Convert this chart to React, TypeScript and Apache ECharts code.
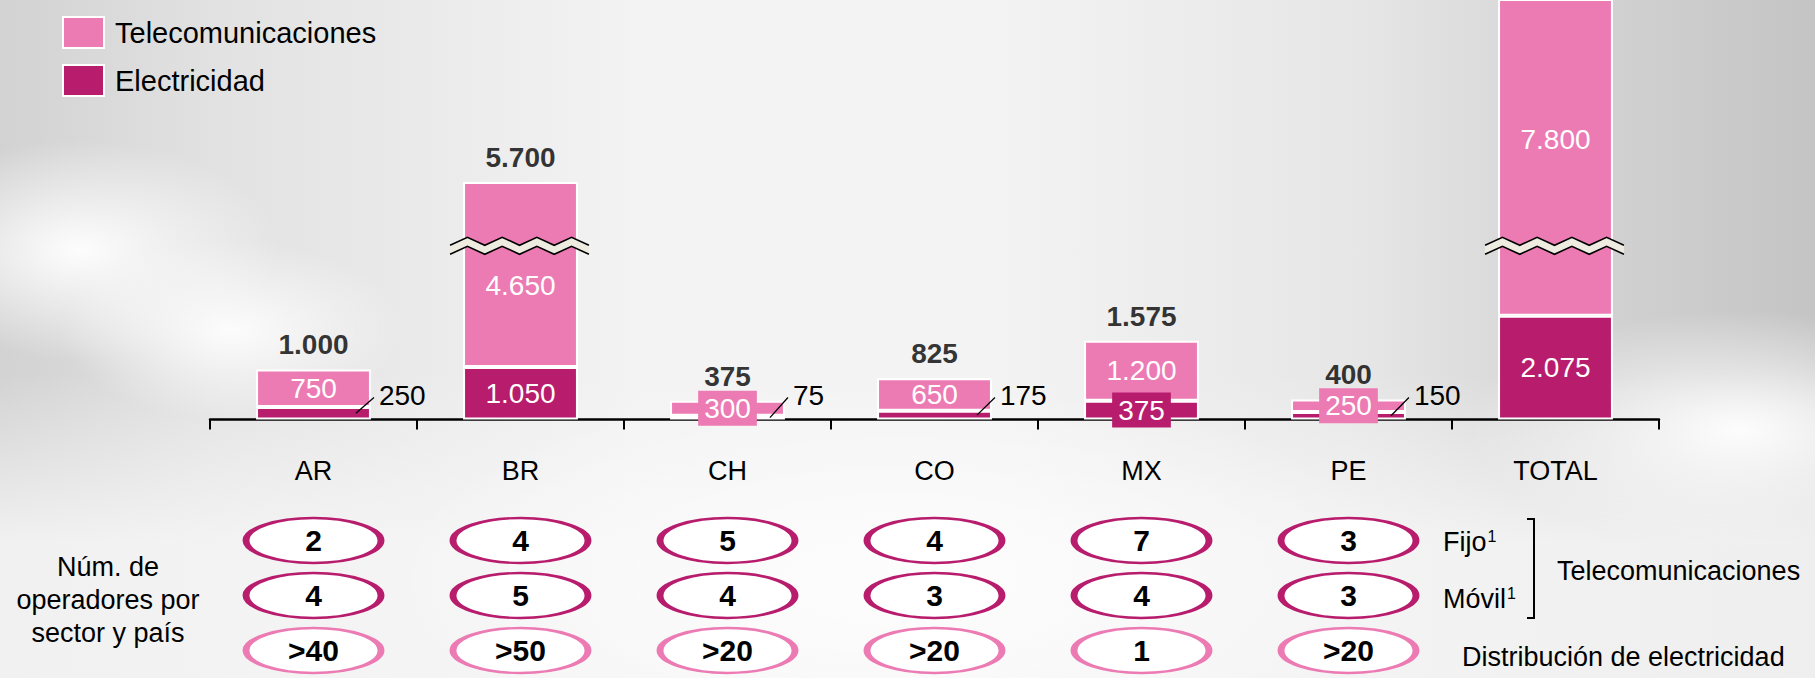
import React, { useEffect, useRef } from 'react';
import * as echarts from 'echarts';

// ---------- data ----------
const categories = ['AR', 'BR', 'CH', 'CO', 'MX', 'PE', 'TOTAL'];
const electricidad = [250, 1050, 75, 175, 375, 150, 2075];
const telecomunicaciones = [750, 4650, 300, 650, 1200, 250, 7800];
const showTotal = [true, true, true, true, true, true, false];

const opsRows = ['Fijo', 'Móvil', 'Distribución'];
const opsFijo = ['2', '4', '5', '4', '7', '3'];
const opsMovil = ['4', '5', '4', '3', '4', '3'];
const opsElectricidad = ['>40', '>50', '>20', '>20', '1', '>20'];

// axis break (value axis)
const BREAK_START = 3400;
const BREAK_END = 4480;
const Y_MAX = 9340;

// ---------- style ----------
const PINK = '#EC7BB4';
const MAGENTA = '#B81C6C';
const FONT = 'Liberation Sans, Arial, Helvetica, sans-serif';
const BAR_RATIO = 0.555;

const fmt = (n: number) => String(n).replace(/\B(?=(\d{3})+(?!\d))/g, '.');

export default function App() {
  const ref = useRef<HTMLDivElement>(null);

  useEffect(() => {
    if (!ref.current) return;
    const chart = echarts.init(ref.current, undefined, { renderer: 'svg' });

    const totals = categories.map((_, i) => electricidad[i] + telecomunicaciones[i]);

    const elecData = electricidad.map((v) => {
      if (v < 300) return { value: v, label: { show: false } };
      if (v < 400)
        return {
          value: v,
          label: { show: true, backgroundColor: MAGENTA, padding: [4, 6, 3, 6] },
        };
      return { value: v };
    });

    const telData = telecomunicaciones.map((v, i) => {
      const item: any = { value: v };
      const tot = totals[i];
      if (v < 400) item.label = { backgroundColor: PINK, padding: [4, 6, 3, 6] };
      else if (tot > Y_MAX) item.label = { offset: [0, -18] };
      else if (tot > BREAK_START) item.label = { offset: [0, 11] };
      return item;
    });

    const leaderData = electricidad
      .map((v, i) => (v < 300 ? [i, v] : null))
      .filter(Boolean);

    const breakData = totals
      .map((t, i) => (t > BREAK_START ? [i, t] : null))
      .filter(Boolean);

    const opsSeries = (vals: string[], row: number, color: string) => ({
      type: 'scatter',
      xAxisIndex: 1,
      yAxisIndex: 1,
      symbol:
        'path://M50,0 C77.6,0 100,22.4 100,50 C100,77.6 77.6,100 50,100 C22.4,100 0,77.6 0,50 C0,22.4 22.4,0 50,0 Z',
      symbolSize: [135, 45],
      itemStyle: { color: '#ffffff', borderColor: color, borderWidth: 4, opacity: 1 },
      label: {
        show: true,
        position: 'inside',
        formatter: (p: any) => vals[p.dataIndex],
        color: '#000',
        fontSize: 30,
        fontWeight: 'bold',
        fontFamily: FONT,
      },
      data: vals.map((_, i) => [i, row]),
      z: 3,
    });

    chart.setOption({
      animation: false,
      textStyle: { fontFamily: FONT },
      legend: {
        data: ['Telecomunicaciones', 'Electricidad'],
        orient: 'vertical',
        left: 57,
        top: 11,
        itemWidth: 41,
        itemHeight: 31,
        itemGap: 15,
        icon: 'rect',
        textStyle: { fontSize: 29, color: '#000', fontFamily: FONT, lineHeight: 31, padding: [0, 0, 0, 6] },
      },
      grid: [
        { left: 210, right: 156, top: 0, height: 419.5 },
        { left: 210, right: 156, top: 513, height: 172.5 },
      ],
      xAxis: [
        {
          type: 'category',
          gridIndex: 0,
          data: categories,
          axisLine: { show: true, lineStyle: { color: '#000', width: 2.5 } },
          axisTick: { show: true, length: 10, lineStyle: { color: '#000', width: 2 } },
          axisLabel: { fontSize: 27, color: '#000', margin: 38, fontFamily: FONT },
        },
        { type: 'category', gridIndex: 1, data: categories, show: false },
      ],
      yAxis: [
        {
          type: 'value',
          gridIndex: 0,
          min: 0,
          max: Y_MAX,
          axisLine: { show: false },
          axisTick: { show: false },
          axisLabel: { show: false },
          splitLine: { show: false },
          breaks: [{ start: BREAK_START, end: BREAK_END, gap: '1.5%' }],
          breakArea: { show: false, itemStyle: { opacity: 0 } },
        },
        { type: 'category', gridIndex: 1, data: opsRows, inverse: true, show: false },
      ],
      series: [
        {
          name: 'Electricidad',
          type: 'bar',
          stack: 'a',
          barWidth: BAR_RATIO * 100 + '%',
          itemStyle: { color: MAGENTA, borderColor: '#ffffff', borderWidth: 2 },
          label: {
            show: true,
            position: 'inside',
            color: '#fff',
            fontSize: 28,
            fontFamily: FONT,
            formatter: (p: any) => fmt(p.value),
          },
          data: elecData,
          z: 2,
        },
        {
          name: 'Telecomunicaciones',
          type: 'bar',
          stack: 'a',
          barWidth: BAR_RATIO * 100 + '%',
          itemStyle: { color: PINK, borderColor: '#ffffff', borderWidth: 2 },
          label: {
            show: true,
            position: 'inside',
            color: '#fff',
            fontSize: 28,
            fontFamily: FONT,
            formatter: (p: any) => fmt(p.value),
          },
          data: telData,
          z: 2,
        },
        {
          name: 'Total',
          type: 'scatter',
          symbolSize: 1,
          itemStyle: { color: 'rgba(0,0,0,0)' },
          label: {
            show: true,
            position: 'top',
            distance: 10,
            color: '#000',
            fontSize: 28,
            fontWeight: 'bold',
            fontFamily: FONT,
            formatter: (p: any) => fmt(p.value),
          },
          data: totals.map((t, i) => (showTotal[i] ? t : '-')),
          z: 4,
        },
        {
          name: 'leaders',
          type: 'custom',
          data: leaderData,
          z: 5,
          renderItem: (params: any, api: any) => {
            const i = api.value(0);
            const v = api.value(1);
            const base = api.coord([i, 0]);
            const top = api.coord([i, v]);
            const bw = api.size([1, 0])[0] * BAR_RATIO;
            const right = base[0] + bw / 2;
            const midY = (base[1] + top[1]) / 2;
            return {
              type: 'group',
              children: [
                {
                  type: 'line',
                  shape: { x1: right - 15, y1: midY, x2: right + 3, y2: base[1] - 22 },
                  style: { stroke: '#000', lineWidth: 1.3 },
                },
                {
                  type: 'text',
                  style: {
                    text: fmt(v),
                    x: right + 8,
                    y: base[1] - 24,
                    align: 'left',
                    verticalAlign: 'middle',
                    fill: '#000',
                    fontSize: 28,
                    fontFamily: FONT,
                  },
                },
              ],
            };
          },
        },
        {
          name: 'breaks',
          type: 'custom',
          data: breakData,
          z: 6,
          renderItem: (params: any, api: any) => {
            const i = api.value(0);
            const p1 = api.coord([i, BREAK_START]);
            const p2 = api.coord([i, BREAK_END]);
            const mid = (p1[1] + p2[1]) / 2;
            const bw = api.size([1, 0])[0] * BAR_RATIO;
            const left = p1[0] - bw / 2 - 13;
            const width = bw + 24;
            const n = 8;
            const step = width / n;
            const topPts: number[][] = [];
            const botPts: number[][] = [];
            for (let k = 0; k <= n; k++) {
              const x = left + k * step;
              topPts.push([x, mid + (k % 2 === 0 ? -1 : -9)]);
              botPts.push([x, mid + (k % 2 === 0 ? 8 : 0)]);
            }
            return {
              type: 'group',
              children: [
                {
                  type: 'polygon',
                  shape: { points: topPts.concat(botPts.slice().reverse()) },
                  style: { fill: '#EEECE1', stroke: 'none' },
                },
                { type: 'polyline', shape: { points: topPts }, style: { stroke: '#000', lineWidth: 1.6, fill: 'none' } },
                { type: 'polyline', shape: { points: botPts }, style: { stroke: '#000', lineWidth: 1.6, fill: 'none' } },
              ],
            };
          },
        },
        opsSeries(opsFijo, 0, MAGENTA),
        opsSeries(opsMovil, 1, MAGENTA),
        opsSeries(opsElectricidad, 2, PINK),
      ],
      graphic: [
        {
          type: 'text',
          x: 108,
          y: 600,
          style: {
            text: 'Núm. de\noperadores por\nsector y país',
            align: 'center',
            verticalAlign: 'middle',
            fontSize: 27,
            lineHeight: 33,
            fontFamily: FONT,
            fill: '#000',
          },
        },
        {
          type: 'text',
          x: 1443,
          y: 541.75,
          style: {
            text: 'Fijo{s|1}',
            verticalAlign: 'middle',
            fontSize: 27,
            fontFamily: FONT,
            fill: '#000',
            rich: { s: { fontSize: 16, verticalAlign: 'top', padding: [0, 0, 10, 1], fontFamily: FONT } },
          },
        },
        {
          type: 'text',
          x: 1443,
          y: 599.25,
          style: {
            text: 'Móvil{s|1}',
            verticalAlign: 'middle',
            fontSize: 27,
            fontFamily: FONT,
            fill: '#000',
            rich: { s: { fontSize: 16, verticalAlign: 'top', padding: [0, 0, 10, 1], fontFamily: FONT } },
          },
        },
        {
          type: 'polyline',
          shape: { points: [[1527, 519], [1534, 519], [1534, 618], [1527, 618]] },
          style: { stroke: '#000', lineWidth: 2, fill: 'none' },
        },
        {
          type: 'text',
          x: 1557,
          y: 571,
          style: { text: 'Telecomunicaciones', verticalAlign: 'middle', fontSize: 27, fontFamily: FONT, fill: '#000' },
        },
        {
          type: 'text',
          x: 1462,
          y: 657,
          style: { text: 'Distribución de electricidad', verticalAlign: 'middle', fontSize: 27, fontFamily: FONT, fill: '#000' },
        },
      ],
    });

    return () => chart.dispose();
  }, []);

  const bg = [
    'radial-gradient(ellipse 200px 110px at 80px 250px, rgba(255,255,255,0.95), rgba(255,255,255,0) 100%)',
    'radial-gradient(ellipse 170px 90px at 230px 330px, rgba(255,255,255,0.9), rgba(255,255,255,0) 100%)',
    'radial-gradient(ellipse 270px 120px at 1740px 430px, rgba(255,255,255,0.95), rgba(255,255,255,0) 100%)',
    'radial-gradient(ellipse 520px 200px at 900px 580px, rgba(255,255,255,0.8), rgba(255,255,255,0) 100%)',
    'linear-gradient(180deg, rgba(246,246,246,0) 55%, rgba(246,246,246,0.85) 80%)',
    'linear-gradient(90deg, #d2d2d2 0%, #e2e2e2 12%, #f3f3f3 35%, #f3f3f3 55%, #e6e6e6 75%, #d2d2d2 88%, #c4c4c4 100%)',
  ].join(',');

  return (
    <div
      ref={ref}
      style={{ position: 'fixed', left: 0, top: 0, width: 1815, height: 678, background: bg }}
    />
  );
}
